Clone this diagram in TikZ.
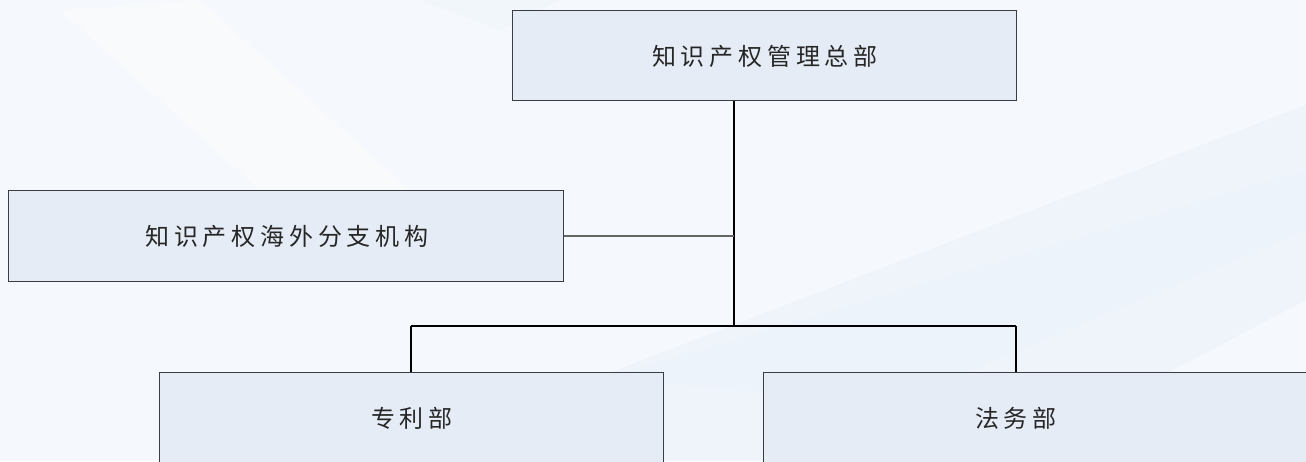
\documentclass[tikz,border=0pt]{standalone}
\usepackage{fontspec}
\newfontfamily\cjk[LetterSpace=20]{Noto Sans CJK SC}
\definecolor{bgc}{HTML}{F5F8FC}
\definecolor{bandc}{HTML}{EDF3FB}
\definecolor{boxfill}{HTML}{E6ECF6}
\definecolor{boxline}{HTML}{3A3D42}
\definecolor{txt}{HTML}{262626}
\tikzset{
  orgbox/.style={draw=boxline, line width=1.2pt, fill=boxfill, anchor=north west, inner sep=0pt},
  orgtext/.style={text=txt, font=\cjk\fontsize{24}{24}\selectfont, inner sep=0pt},
  link/.style={draw=black, line width=1.1pt},
  linkgray/.style={draw=gray!80!black, line width=1.3pt}
}
\begin{document}
\begin{tikzpicture}[x=1pt,y=-1pt]
\useasboundingbox (0,0) rectangle (1306,461);
\begin{scope}
\clip (0,0) rectangle (1306,461);
\fill[bgc] (0,0) rectangle (1306,461);
\fill[white, opacity=0.3] (60,10) -- (200,0) -- (420,200) -- (260,190) -- cycle;
\fill[bandc, opacity=0.7] (380,461) -- (1306,105) -- (1306,300) -- (1000,461) -- cycle;
\fill[bandc, opacity=0.5] (600,380) -- (1306,170) -- (1306,230) -- (900,400) -- cycle;
\fill[bandc, opacity=0.4] (420,0) -- (560,0) -- (500,30) -- cycle;

\node[orgbox, minimum width=504pt, minimum height=90pt] (top) at (512,10) {};
\node[orgbox, minimum width=555pt, minimum height=91pt] (left) at (8,190) {};
\node[orgbox, minimum width=504pt, minimum height=110pt] (bl) at (159,372) {};
\node[orgbox, minimum width=600pt, minimum height=110pt] (br) at (763,372) {};

\node[orgtext] (toptxt) at (765,56) {知识产权管理总部};
\node[orgtext] (lefttxt) at (287,236) {知识产权海外分支机构};
\node[orgtext] (bltxt) at (412,418) {专利部};
\node[orgtext] (brtxt) at (1016,418) {法务部};

\coordinate (trunk) at (734,326);
\coordinate (jl) at (411,326);
\coordinate (jr) at (1016,326);
\draw[link] (top.south -| trunk) -- (trunk);
\draw[linkgray] (left.east) -- (left.east -| trunk);
\draw[link] (jl) -- (jr);
\draw[link] (jl) -- (jl |- bl.north);
\draw[link] (jr) -- (jr |- br.north);
\end{scope}
\end{tikzpicture}
\end{document}
